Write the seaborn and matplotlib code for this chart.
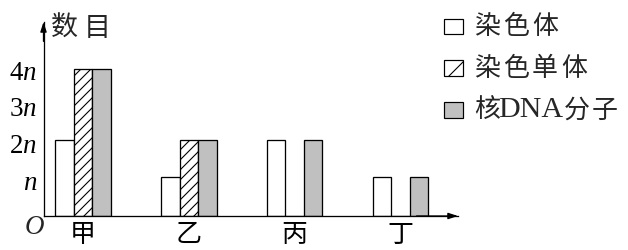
import numpy as np
import pandas as pd
import matplotlib
matplotlib.use("Agg")
import matplotlib.pyplot as plt
import seaborn as sns
from matplotlib.patches import Rectangle

# ---- data ----
groups = ["甲", "乙", "丙", "丁"]
series = ["染色体", "染色单体", "核DNA分子"]
chromosome = [2.08, 1.06, 2.08, 1.06]
chromatid = [4.0, 2.08, 0.0, 0.0]
nuclear_dna = [4.0, 2.08, 2.08, 1.06]
ytick_vals = [1, 2, 3, 4]
ytick_labels = ["$n$", "$2n$", "$3n$", "$4n$"]
colors = ["white", "white", "#c0c0c0"]

DPI = 150
W, H = 628, 250


def pt(v):
    return v * 72.0 / DPI


sns.set_style("white")
plt.rcParams["font.family"] = ["Noto Sans CJK SC", "DejaVu Sans"]
plt.rcParams["mathtext.fontset"] = "custom"
plt.rcParams["mathtext.rm"] = "Liberation Serif"
plt.rcParams["mathtext.it"] = "Liberation Serif:italic"
plt.rcParams["hatch.linewidth"] = pt(1.1)
plt.rcParams["hatch.color"] = "black"

records = []
for s, vals in zip(series, [chromosome, chromatid, nuclear_dna]):
    for g, v in zip(groups, vals):
        records.append({"group": g, "series": s, "value": v})
df = pd.DataFrame(records)

fig = plt.figure(figsize=(W / DPI, H / DPI), dpi=DPI)
ax = fig.add_axes([43.5 / W, 34 / H, (458 - 43.5) / W, 194 / H])

sns.barplot(data=df, x="group", y="value", hue="series", order=groups,
            hue_order=series, palette=colors, saturation=1, width=0.524,
            gap=0, edgecolor="black", linewidth=pt(1.3), errorbar=None,
            legend=False, ax=ax)
for bar in ax.containers[1]:
    bar.set_hatch("/////")

ax.set_xlim(-0.373, 3.543)
ax.set_ylim(0, 5.286)
ax.set_xlabel("")
ax.set_ylabel("")
for side in ["top", "right"]:
    ax.spines[side].set_visible(False)
for side in ["left", "bottom"]:
    ax.spines[side].set_color("black")
    ax.spines[side].set_linewidth(pt(1.3))

ax.set_yticks(ytick_vals, ytick_labels)
ax.tick_params(axis="y", direction="out", length=pt(5), width=pt(1.2),
               pad=pt(1.5), labelsize=pt(27), colors="black")
ax.tick_params(axis="x", length=0, pad=pt(5), labelsize=pt(26),
               colors="black")

arrow = dict(arrowstyle="-|>,head_length=0.4,head_width=0.13", color="black",
             lw=pt(1.3), shrinkA=0, shrinkB=0, mutation_scale=pt(20))
ax.annotate("", xy=(0, 1), xytext=(0, 0.9), xycoords="axes fraction",
            arrowprops=arrow, annotation_clip=False)
ax.annotate("", xy=(1, 0), xytext=(0.9, 0), xycoords="axes fraction",
            arrowprops=arrow, annotation_clip=False)


def put(s, x, y, size, ha="left", **kw):
    fig.text(x / W, 1 - y / H, s, fontsize=pt(size), ha=ha, va="center", **kw)


# axis title and origin
put("数", 51, 28, 27)
put("目", 84, 28, 27)
put("O", 34, 228, 27, ha="center", family="Liberation Serif", style="italic")

# legend
rows_y = [26, 68, 110]
layouts = [
    [("染", 474), ("色", 503), ("体", 532)],
    [("染", 474), ("色", 503), ("单", 532), ("体", 561)],
    [("核", 474), ("DNA", 498), ("分", 564), ("子", 592)],
]
for i, (y, lay) in enumerate(zip(rows_y, layouts)):
    rect = Rectangle((444 / W, 1 - (y + 7.5) / H), 19 / W, 15 / H,
                     transform=fig.transFigure, facecolor=colors[i],
                     edgecolor="black", lw=pt(1.2),
                     hatch="//" if i == 1 else None)
    fig.add_artist(rect)
    for tok, x in lay:
        if tok.isascii():
            put(tok, x, y, 30, family="Liberation Serif")
        else:
            put(tok, x, y, 26)

fig.savefig("out.png", dpi=DPI)
